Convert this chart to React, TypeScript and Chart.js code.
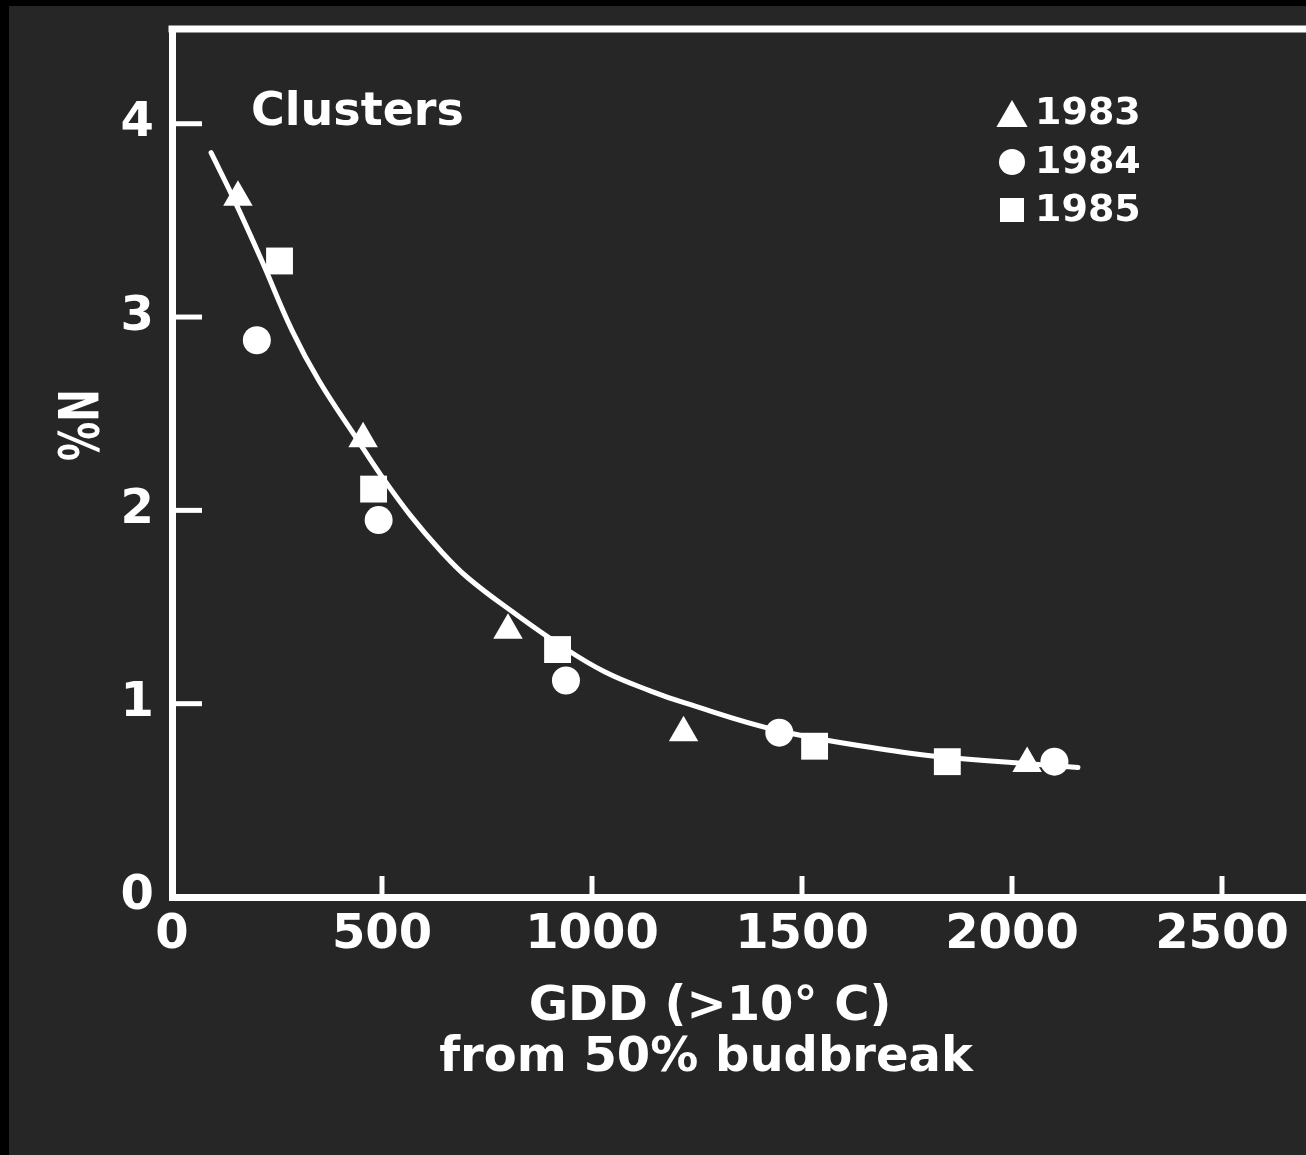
import { useEffect, useRef } from 'react';
import { Chart, registerables } from 'chart.js';

Chart.register(...registerables);

// ---------------- data ----------------
const xTicks = [0, 500, 1000, 1500, 2000, 2500];
const yTicks = [0, 1, 2, 3, 4];

const seriesLabels = ['1983', '1984', '1985'];
const seriesStyles = ['triangle', 'circle', 'rect'];

const gdd1983 = [157, 455, 800, 1218, 2036];
const n1983 = [3.62, 2.37, 1.38, 0.85, 0.69];

const gdd1984 = [202, 492, 938, 1446, 2101];
const n1984 = [2.88, 1.95, 1.12, 0.85, 0.7];

const gdd1985 = [256, 480, 918, 1530, 1846];
const n1985 = [3.29, 2.11, 1.28, 0.78, 0.7];

const fitGdd = [93, 145, 212, 286, 350, 443, 498, 569, 640, 705, 814, 926, 1030, 1140, 1219, 1445, 1736, 1855, 2157];
const fitN = [3.85, 3.62, 3.3, 2.93, 2.67, 2.36, 2.18, 1.97, 1.79, 1.65, 1.47, 1.3, 1.165, 1.065, 1.005, 0.86, 0.75, 0.72, 0.67];

const panelTitle = 'Clusters';
const yTitle = '%N';
const xTitleLines = ['GDD (>10° C)', 'from 50% budbreak'];

// ---------------- style ----------------
const W = 1306;
const H = 1155;
const BG = '#262626';
const FG = '#ffffff';
const FAM = '"DejaVu Sans", "Liberation Sans", sans-serif';

function drawMarker(ctx: CanvasRenderingContext2D, style: string, x: number, y: number, r: number) {
  ctx.beginPath();
  if (style === 'triangle') {
    ctx.moveTo(x, y - r);
    ctx.lineTo(x + 0.866 * r, y + 0.5 * r);
    ctx.lineTo(x - 0.866 * r, y + 0.5 * r);
    ctx.closePath();
  } else if (style === 'circle') {
    ctx.arc(x, y, r, 0, Math.PI * 2);
  } else {
    const s = r * Math.SQRT1_2;
    ctx.rect(x - s, y - s, 2 * s, 2 * s);
  }
  ctx.fill();
}

const framePlugin = {
  id: 'frame',
  beforeDraw(chart: any) {
    const ctx = chart.ctx as CanvasRenderingContext2D;
    ctx.save();
    ctx.fillStyle = '#000';
    ctx.fillRect(0, 0, chart.width, chart.height);
    ctx.fillStyle = BG;
    ctx.fillRect(9, 6, chart.width, chart.height);
    ctx.restore();
  },
  afterDraw(chart: any) {
    const ctx = chart.ctx as CanvasRenderingContext2D;
    const a = chart.chartArea;
    const sx = chart.scales.x;
    const sy = chart.scales.y;
    ctx.save();
    ctx.strokeStyle = FG;
    ctx.fillStyle = FG;
    ctx.lineCap = 'butt';

    // top frame line
    ctx.lineWidth = 7;
    ctx.beginPath();
    ctx.moveTo(a.left - 3.5, a.top);
    ctx.lineTo(chart.width, a.top);
    ctx.stroke();

    // inward tick marks
    ctx.lineWidth = 5;
    for (const v of yTicks) {
      if (v === 0) continue;
      const py = sy.getPixelForValue(v);
      ctx.beginPath();
      ctx.moveTo(a.left, py);
      ctx.lineTo(a.left + 30, py);
      ctx.stroke();
    }
    for (const v of xTicks) {
      if (v === 0) continue;
      const px = sx.getPixelForValue(v);
      ctx.beginPath();
      ctx.moveTo(px, a.bottom);
      ctx.lineTo(px, a.bottom - 21);
      ctx.stroke();
    }

    // panel title
    ctx.font = `bold 46px ${FAM}`;
    ctx.textAlign = 'left';
    ctx.textBaseline = 'alphabetic';
    ctx.fillText(panelTitle, 251, 125);

    // legend
    const rowY = [113, 162, 210];
    const radii: Record<string, number> = { triangle: 18, circle: 13, rect: 17 };
    ctx.font = `bold 38px ${FAM}`;
    ctx.textBaseline = 'middle';
    seriesLabels.forEach((lab, i) => {
      const st = seriesStyles[i];
      const y = rowY[i];
      drawMarker(ctx, st, 1012, st === 'triangle' ? y + 5 : y, radii[st]);
      ctx.fillText(lab, 1035, y + 1);
    });

    // y title (rotated, condensed)
    ctx.save();
    ctx.translate(78, 425);
    ctx.rotate(-Math.PI / 2);
    ctx.scale(0.71, 1);
    ctx.font = `bold 55px ${FAM}`;
    ctx.textAlign = 'center';
    ctx.textBaseline = 'alphabetic';
    ctx.fillText(yTitle, 0, 20);
    ctx.restore();

    // x title
    ctx.font = `bold 48px ${FAM}`;
    ctx.textAlign = 'center';
    ctx.textBaseline = 'alphabetic';
    ctx.fillText(xTitleLines[0], 710, 1020);
    ctx.fillText(xTitleLines[1], 706, 1071);

    ctx.restore();
  },
};

const zeroPad = (s: any) => {
  s.paddingTop = 0;
  s.paddingBottom = 0;
  s.paddingLeft = 0;
  s.paddingRight = 0;
};

export default function App() {
  const ref = useRef<HTMLCanvasElement | null>(null);

  useEffect(() => {
    document.body.style.margin = '0';
    document.body.style.overflow = 'hidden';
    document.body.style.background = '#000';
    const canvas = ref.current;
    if (!canvas) return;

    const mk = (gs: number[], ns: number[]) => gs.map((g, i) => ({ x: g, y: ns[i] }));
    const pointRadii: Record<string, number> = { triangle: 17, circle: 14, rect: 19 };
    const seriesData = [mk(gdd1983, n1983), mk(gdd1984, n1984), mk(gdd1985, n1985)];

    const chart = new Chart(canvas, {
      type: 'scatter',
      data: {
        datasets: [
          {
            type: 'line',
            label: 'fit',
            data: mk(fitGdd, fitN),
            borderColor: FG,
            borderWidth: 5,
            pointRadius: 0,
            fill: false,
            tension: 0.4,
            borderCapStyle: 'round',
          } as any,
          ...seriesLabels.map((lab, i) => ({
            label: lab,
            data: seriesData[i],
            pointStyle: seriesStyles[i],
            pointRadius: pointRadii[seriesStyles[i]],
            pointHoverRadius: pointRadii[seriesStyles[i]],
            backgroundColor: FG,
            borderColor: FG,
            borderWidth: 0,
            pointBorderWidth: 0,
            showLine: false,
          })),
        ],
      },
      options: {
        responsive: false,
        animation: false,
        devicePixelRatio: 1,
        events: [],
        layout: { autoPadding: false, padding: { top: 29, left: 0, right: 0, bottom: 0 } },
        plugins: { legend: { display: false }, tooltip: { enabled: false } },
        scales: {
          x: {
            type: 'linear',
            min: 0,
            max: 2700,
            afterBuildTicks: (s: any) => {
              s.ticks = xTicks.map((v) => ({ value: v }));
            },
            afterFit: (s: any) => {
              s.height = H - 897;
              zeroPad(s);
            },
            grid: { display: true, drawOnChartArea: false, drawTicks: false },
            border: { display: true, color: FG, width: 7 },
            ticks: {
              color: FG,
              font: { family: FAM, weight: 'bold', size: 48 },
              padding: 10,
              autoSkip: false,
              maxRotation: 0,
              callback: (v: any) => String(v),
            },
          },
          y: {
            type: 'linear',
            min: 0,
            max: 4.49,
            afterBuildTicks: (s: any) => {
              s.ticks = yTicks.map((v) => ({ value: v }));
            },
            afterFit: (s: any) => {
              s.width = 172;
              zeroPad(s);
            },
            grid: { display: true, drawOnChartArea: false, drawTicks: false },
            border: { display: true, color: FG, width: 7 },
            ticks: {
              color: FG,
              font: { family: FAM, weight: 'bold', size: 48 },
              padding: 18,
              callback: (v: any) => String(v),
            },
          },
        },
      } as any,
      plugins: [framePlugin],
    });

    return () => chart.destroy();
  }, []);

  return (
    <div style={{ width: W, height: H }}>
      <canvas ref={ref} width={W} height={H} style={{ display: 'block' }} />
    </div>
  );
}
